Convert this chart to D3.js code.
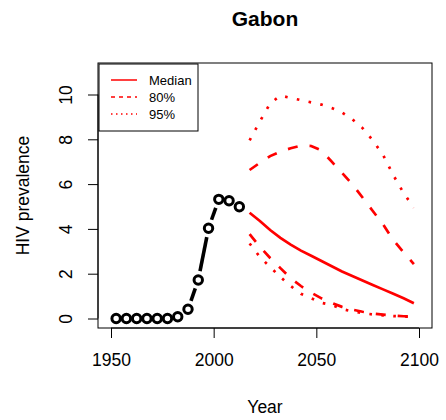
<!DOCTYPE html>
<html>
<head>
<meta charset="utf-8">
<script src="https://cdn.jsdelivr.net/npm/d3@7"></script>
<style>
  body { margin: 0; background: #fff; }
  text { font-family: "Liberation Sans", Arial, sans-serif; }
</style>
</head>
<body>
<div id="chart"></div>
<script>
// observed estimates (5-year period midpoints)
let histYears = [1952.5, 1957.5, 1962.5, 1967.5, 1972.5, 1977.5, 1982.5, 1987.5, 1992.5, 1997.5, 2002.5, 2007.5, 2012.5]
let histValues = [0, 0, 0, 0, 0, 0, 0.08, 0.41, 1.72, 4.03, 5.32, 5.26, 4.99]

// projections
let projYears = [2017.5, 2022.5, 2027.5, 2032.5, 2037.5, 2042.5, 2047.5, 2052.5, 2057.5,
                 2062.5, 2067.5, 2072.5, 2077.5, 2082.5, 2087.5, 2092.5, 2097.5]
let median = [4.72, 4.35, 3.95, 3.6, 3.3, 3.03, 2.8, 2.57, 2.33, 2.1, 1.9, 1.7, 1.5, 1.3, 1.1, 0.9, 0.68]
let upper80 = [6.63, 6.95, 7.25, 7.45, 7.6, 7.72, 7.7, 7.5, 7.0, 6.5, 6.0, 5.4, 4.8, 4.2, 3.5, 2.95, 2.43]
let lower80 = [3.77, 3.2, 2.7, 2.25, 1.8, 1.45, 1.15, 0.9, 0.7, 0.52, 0.4, 0.3, 0.22, 0.17, 0.13, 0.1, 0.08]
let upper95 = [7.95, 8.8, 9.6, 9.95, 9.85, 9.75, 9.65, 9.55, 9.4, 9.2, 8.9, 8.5, 7.95, 7.3, 6.4, 5.6, 4.95]
let lower95 = [3.35, 2.75, 2.3, 1.85, 1.45, 1.1, 0.9, 0.7, 0.6, 0.42, 0.32, 0.24, 0.18, 0.14, 0.11, 0.09, 0.07]

let xTicks = [1950, 2000, 2050, 2100]
let yTicks = [0, 2, 4, 6, 8, 10]
let legendLabels = ["Median", "80%", "95%"]

let W = 446, H = 420
let box = {left: 98, top: 63, right: 432, bottom: 328}

let svg = d3.select("#chart")
  .append("svg")
  .attr("width", W)
  .attr("height", H)

let x = d3.scaleLinear().domain([1950, 2100]).range([111, 419])
let y = d3.scaleLinear().domain([0, 10]).range([318.5, 94.5])

// title
svg.append("text")
  .attr("x", (box.left + box.right) / 2)
  .attr("y", 26)
  .attr("text-anchor", "middle")
  .style("font-size", "21px")
  .style("font-weight", "bold")
  .text("Gabon")

// x axis
let xAxis = svg.append("g")
  .attr("transform", `translate(0,${box.bottom})`)
  .call(d3.axisBottom(x).tickValues(xTicks).tickFormat(d3.format("d")).tickSize(10).tickPadding(16))
xAxis.select(".domain").attr("d", `M${x(1950)},0H${x(2100)}`)
xAxis.selectAll("text").style("font-size", "17.5px").style("font-family", "Liberation Sans, Arial, sans-serif")
xAxis.selectAll("line").attr("stroke", "#000")

// y axis
let yAxis = svg.append("g")
  .attr("transform", `translate(${box.left},0)`)
  .call(d3.axisLeft(y).tickValues(yTicks).tickSize(10).tickFormat(d3.format("d")))
yAxis.select(".domain").attr("d", `M0,${y(0)}V${y(10)}`)
yAxis.selectAll("text")
  .style("font-size", "17.5px")
  .style("font-family", "Liberation Sans, Arial, sans-serif")
  .attr("x", null).attr("dy", null)
  .attr("text-anchor", "middle")
  .attr("transform", "translate(-26,0) rotate(-90)")

// axis titles
svg.append("text")
  .attr("x", (box.left + box.right) / 2)
  .attr("y", 413)
  .attr("text-anchor", "middle")
  .style("font-size", "17.5px")
  .text("Year")

svg.append("text")
  .attr("transform", `translate(29,${(box.top + box.bottom) / 2}) rotate(-90)`)
  .attr("text-anchor", "middle")
  .style("font-size", "17.5px")
  .text("HIV prevalence")

// plot frame
svg.append("rect")
  .attr("x", box.left).attr("y", box.top)
  .attr("width", box.right - box.left).attr("height", box.bottom - box.top)
  .attr("fill", "none").attr("stroke", "#000").attr("stroke-width", 1)

// projection lines
let line = d3.line().x(d => x(d[0])).y(d => y(d[1]))
let series = [
  {vals: median, dash: null},
  {vals: upper80, dash: "10,12"},
  {vals: lower80, dash: "10,12"},
  {vals: upper95, dash: "2.6,9.4"},
  {vals: lower95, dash: "2.6,9.4"}
]
svg.selectAll("path.proj")
  .data(series)
  .enter()
  .append("path")
  .attr("class", "proj")
  .attr("d", s => line(projYears.map((yr, i) => [yr, s.vals[i]])))
  .attr("fill", "none")
  .attr("stroke", "red")
  .attr("stroke-width", 2.7)
  .attr("stroke-dasharray", s => s.dash)

// historical: type "b" (lines with gaps around points)
let hist = histYears.map((yr, i) => ({px: x(yr), py: y(histValues[i])}))
let gap = 9
let segs = []
for (let i = 0; i < hist.length - 1; i++) {
  let a = hist[i], b = hist[i + 1]
  let dx = b.px - a.px, dy = b.py - a.py
  let len = Math.sqrt(dx * dx + dy * dy)
  if (len > 2 * gap) {
    let ux = dx / len, uy = dy / len
    segs.push([a.px + ux * gap, a.py + uy * gap, b.px - ux * gap, b.py - uy * gap])
  }
}
svg.selectAll("line.hist")
  .data(segs)
  .enter()
  .append("line")
  .attr("class", "hist")
  .attr("x1", d => d[0]).attr("y1", d => d[1])
  .attr("x2", d => d[2]).attr("y2", d => d[3])
  .attr("stroke", "#000")
  .attr("stroke-width", 3.6)

svg.selectAll("circle.hist")
  .data(hist)
  .enter()
  .append("circle")
  .attr("class", "hist")
  .attr("cx", d => d.px).attr("cy", d => d.py)
  .attr("r", 4.2)
  .attr("fill", "none")
  .attr("stroke", "#000")
  .attr("stroke-width", 3)

// legend
let lg = svg.append("g")
lg.append("rect")
  .attr("x", 99).attr("y", 64).attr("width", 99).attr("height", 67)
  .attr("fill", "#fff").attr("stroke", "#000").attr("stroke-width", 1)
let legDash = [null, "4,4", "1.5,3.5"]
legendLabels.forEach((lab, i) => {
  let ly = 80 + i * 17
  lg.append("line")
    .attr("x1", 111).attr("x2", 137).attr("y1", ly).attr("y2", ly)
    .attr("stroke", "red").attr("stroke-width", 1.5)
    .attr("stroke-dasharray", legDash[i])
  lg.append("text")
    .attr("x", 149).attr("y", ly + 4.5)
    .style("font-size", "13px")
    .text(lab)
})
</script>
</body>
</html>
